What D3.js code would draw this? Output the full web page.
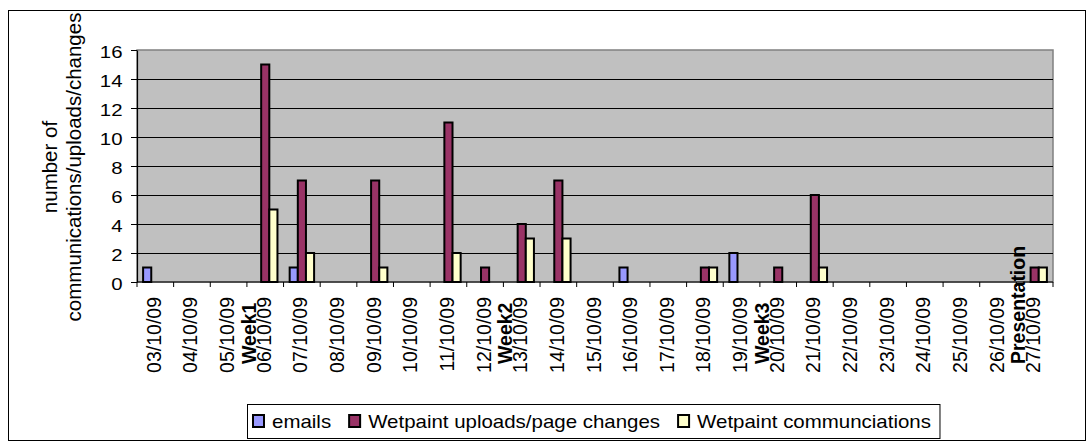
<!DOCTYPE html>
<html>
<head>
<meta charset="utf-8">
<script src="https://cdn.jsdelivr.net/npm/d3@7"></script>
<style>
  html, body { margin: 0; padding: 0; background: #fff; }
  svg { display: block; font-family: "Liberation Sans", Arial, sans-serif; }
</style>
</head>
<body>
<svg id="chart" width="1087" height="441"></svg>
<script>
// Daily activity, 3 Oct – 27 Oct 2009
const categoryLabels = [
  "03/10/09", "04/10/09", "05/10/09", "Week1\n06/10/09", "07/10/09", "08/10/09",
  "09/10/09", "10/10/09", "11/10/09", "12/10/09", "Week2\n13/10/09", "14/10/09",
  "15/10/09", "16/10/09", "17/10/09", "18/10/09", "19/10/09", "Week3\n20/10/09",
  "21/10/09", "22/10/09", "23/10/09", "24/10/09", "25/10/09", "26/10/09",
  "Presentation\n27/10/09"
];
const seriesNames = ["emails", "Wetpaint uploads/page changes", "Wetpaint communciations"];
const emails         = [1,0,0,0,1,0,0,0,0,0,0,0,0,1,0,0,2,0,0,0,0,0,0,0,0];
const uploads        = [0,0,0,15,7,0,7,0,11,1,4,7,0,0,0,1,0,1,6,0,0,0,0,0,1];
const communications = [0,0,0,5,2,0,1,0,2,0,3,3,0,0,0,1,0,0,1,0,0,0,0,0,1];
const yTicks = [0, 2, 4, 6, 8, 10, 12, 14, 16];
const yTitle = ["number of", "communications/uploads/changes"];
const seriesColors = ["#9999FF", "#993366", "#FFFFCC"];

const svg = d3.select("#chart");
const plot = { left: 137, right: 1053, top: 50, bottom: 282 };
const seriesValues = [emails, uploads, communications];

// chart frame
svg.append("rect")
  .attr("x", 8.5).attr("y", 10.5).attr("width", 1077).attr("height", 430)
  .attr("fill", "#fff").attr("stroke", "#000").attr("stroke-width", 1);

const x0 = d3.scaleBand().domain(d3.range(categoryLabels.length)).range([plot.left, plot.right]);
const x1 = d3.scaleBand().domain(d3.range(seriesNames.length))
  .range([0, x0.bandwidth()]).paddingOuter(0.75).paddingInner(0);
const y = d3.scaleLinear().domain([0, 16]).range([plot.bottom, plot.top]);

// plot area
svg.append("rect")
  .attr("x", plot.left).attr("y", plot.top)
  .attr("width", plot.right - plot.left).attr("height", plot.bottom - plot.top)
  .attr("fill", "#C0C0C0").attr("stroke", "#808080").attr("stroke-width", 1.5);

// horizontal gridlines
svg.append("g").selectAll("line")
  .data(yTicks.filter(t => t > 0 && t < 16))
  .join("line")
  .attr("x1", plot.left).attr("x2", plot.right)
  .attr("y1", d => Math.round(y(d)) + 0.5).attr("y2", d => Math.round(y(d)) + 0.5)
  .attr("stroke", "#000").attr("stroke-width", 1);

// bars, one group per day
const groups = svg.append("g").selectAll("g")
  .data(categoryLabels.map((c, i) => i))
  .join("g")
  .attr("transform", i => `translate(${x0(i)},0)`);

groups.selectAll("rect")
  .data(i => seriesValues.map((vals, s) => ({ s, v: vals[i] })).filter(d => d.v > 0))
  .join("rect")
  .attr("x", d => x1(d.s))
  .attr("width", x1.bandwidth())
  .attr("y", d => y(d.v))
  .attr("height", d => y(0) - y(d.v))
  .attr("fill", d => seriesColors[d.s])
  .attr("stroke", "#000")
  .attr("stroke-width", 2);

// y axis
const yAxis = svg.append("g")
  .attr("transform", `translate(${plot.left},0)`)
  .call(d3.axisLeft(y).tickValues(yTicks).tickSize(6).tickSizeOuter(0).tickFormat(d3.format("d")));
yAxis.select(".domain").attr("stroke", "#000").attr("stroke-width", 1.2);
yAxis.selectAll(".tick line").attr("stroke", "#000");
yAxis.selectAll(".tick text")
  .attr("x", 0).attr("dy", "0.42em")
  .attr("transform", "translate(-14.5,0) scale(1.2,1)")
  .attr("font-size", 17).attr("fill", "#000")
  .attr("font-family", "'Liberation Sans', Arial, sans-serif");

// x axis
const xAxis = svg.append("g");
xAxis.append("line")
  .attr("x1", plot.left).attr("x2", plot.right)
  .attr("y1", plot.bottom).attr("y2", plot.bottom)
  .attr("stroke", "#000").attr("stroke-width", 1.2);
const boundaries = d3.range(categoryLabels.length).map(i => x0(i)).concat([plot.right]);
xAxis.selectAll("line.tick")
  .data(boundaries)
  .join("line").attr("class", "tick")
  .attr("x1", d => d).attr("x2", d => d)
  .attr("y1", plot.bottom).attr("y2", plot.bottom + 5)
  .attr("stroke", "#000");

// rotated date labels; milestone names sit in bold beside their date
const labelTop = 297;
const labelG = xAxis.selectAll("g.lbl")
  .data(categoryLabels)
  .join("g").attr("class", "lbl")
  .attr("transform", (d, i) => `translate(${x0(i) + x0.bandwidth() / 2 + 5.5},0) rotate(-90)`);

labelG.append("text")
  .attr("x", -labelTop).attr("y", 0)
  .attr("text-anchor", "end")
  .attr("font-size", 19.5)
  .text(d => d.split("\n").slice(-1)[0]);

labelG.filter(d => d.includes("\n")).append("text")
  .attr("x", -364).attr("y", -15)
  .attr("text-anchor", "start")
  .attr("font-size", 19.5).attr("font-weight", "bold")
  .text(d => d.split("\n")[0]);

// y axis title
const titleX = [57, 81.3];
yTitle.forEach((t, k) => {
  svg.append("text")
    .attr("transform", `translate(${titleX[k]},167) rotate(-90)`)
    .attr("text-anchor", "middle")
    .attr("font-size", 20.5)
    .text(t);
});

// legend
const legend = svg.append("g");
const legendBox = legend.append("rect")
  .attr("y", 404.5).attr("height", 34)
  .attr("fill", "#fff").attr("stroke", "#000").attr("stroke-width", 1);
let cursor = 253;
seriesNames.forEach((name, s) => {
  legend.append("rect")
    .attr("x", cursor).attr("y", 415).attr("width", 11).attr("height", 12)
    .attr("fill", seriesColors[s]).attr("stroke", "#000").attr("stroke-width", 2);
  const tx = cursor + 19;
  const txt = legend.append("text")
    .attr("transform", `translate(${tx},428) scale(1.17,1)`)
    .attr("font-size", 17.5)
    .text(name);
  cursor = tx + txt.node().getComputedTextLength() * 1.17 + 18;
});
legendBox.attr("x", 247.5).attr("width", cursor - 18 + 9 - 247.5);
</script>
</body>
</html>
